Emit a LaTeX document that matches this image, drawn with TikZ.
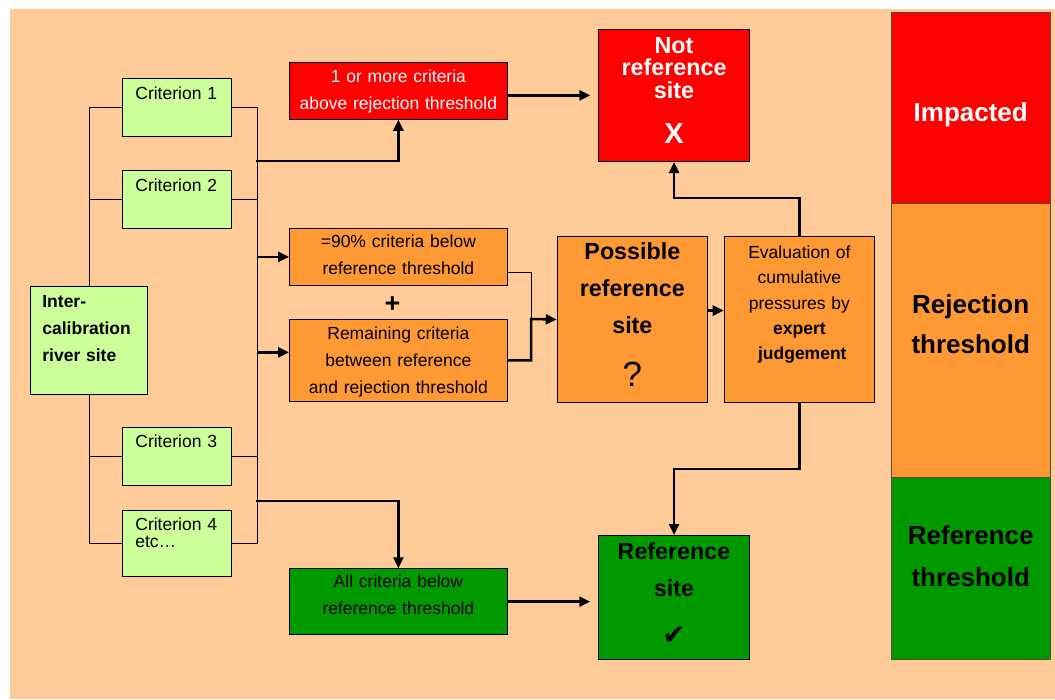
\documentclass[tikz,border=0pt]{standalone}
\usepackage{fontspec}
\setmainfont{Liberation Sans}
\newfontfamily\symfont{DejaVu Sans}
\usetikzlibrary{arrows.meta}
\definecolor{peach}{HTML}{FFCC99}
\definecolor{critgreen}{HTML}{CCFF99}
\definecolor{rejred}{HTML}{FF0000}
\definecolor{midorange}{HTML}{FF9933}
\definecolor{refgreen}{HTML}{009900}
\def\boxfont#1#2{\fontsize{#1}{#2}\selectfont}

\begin{document}
\begin{tikzpicture}[x=1pt, y=-1pt,
		box/.style={draw=black, line width=0.75pt, inner sep=0pt, anchor=north west, align=center},
		crit/.style={box, fill=critgreen, align=left, inner xsep=13pt, text width=83pt, text height=21pt, text depth=37pt, font=\boxfont{17.5}{17}},
		flow/.style={box, text width=218pt, font=\boxfont{17.5}{27}},
		site/.style={box, text width=150.7pt, font=\bfseries\boxfont{23.3}{37}},
		legend/.style={box, draw=black!70, text width=158.7pt, font=\bfseries\boxfont{26}{40}},
		link/.style={line width=2.5pt, -{Triangle[length=11pt, width=10pt]}},
		bracket/.style={line width=1pt}]
			%%%%% START %%%%%
			
			\useasboundingbox (0,0) rectangle (1055,699);
			\fill[peach] (10,9) rectangle (1055,699);
			
			% criteria
			\node[crit] (c1) at (122,78) {Criterion 1};
			\node[crit] (c2) at (122,170) {Criterion 2};
			\node[crit, text height=20pt, text depth=38pt] (c3) at (122,427.3) {Criterion 3};
			\node[crit, text height=20pt, text depth=46pt] (c4) at (122,510) {Criterion 4\\etc…};
			
			\draw[bracket] (c1.west) -- ++(-33,0) |- (c4.west);
			\draw[bracket] (c1.east) -- ++(26,0) |- (c4.east);
			\foreach \c in {c2,c3} {
				\draw[bracket] (\c.west) -- ++(-33,0);
				\draw[bracket] (\c.east) -- ++(26,0);
			}
			\coordinate (rbr) at (257,0);
			\coordinate (tapRej) at (256,161);
			\coordinate (tapAll) at (256,501);
			
			\node[box, fill=critgreen, align=left, inner xsep=12pt, text width=93pt, text height=20.7pt, text depth=87.3pt, font=\bfseries\boxfont{17.5}{27}] (inter) at (30,286) {Inter-\\calibration\\river site};
			
			% outcomes of the criteria
			\node[flow, fill=rejred, text=white, text height=19.7pt, text depth=37.3pt] (rej) at (289,62) {1 or more criteria\\above rejection threshold};
			\node[flow, fill=midorange, text height=18.7pt, text depth=38.3pt] (ninety) at (289,228) {=90\% criteria below\\reference threshold};
			\node[font=\bfseries\boxfont{27}{27}] (plus) at (392.5,304.5) {+};
			\node[flow, fill=midorange, text height=20pt, text depth=62pt] (remain) at (289,319) {Remaining criteria\\between reference\\and rejection threshold};
			\node[flow, fill=refgreen, text height=19pt, text depth=47pt] (allbelow) at (289,568.3) {All criteria below\\reference threshold};
			
			% sites
			\node[site, fill=rejred, text=white, text height=23.7pt, text depth=108.6pt, font=\bfseries\boxfont{23.3}{22.5}] (notref) at (598.3,29) {Not\\reference\\site\\[22.5pt]{\boxfont{29}{29}X}};
			\node[site, fill=midorange, text width=150.6pt, text height=23.3pt, text depth=143pt] (poss) at (556.7,236) {Possible\\reference\\site\\[15.4pt]{\mdseries\boxfont{35}{35}?}};
			\node[site, fill=midorange, text width=150.6pt, text height=22.3pt, text depth=144pt, font=\boxfont{17.5}{25.3}] (eval) at (723.7,236) {Evaluation of\\cumulative\\pressures by\\\textbf{expert}\\\textbf{ judgement}};
			\node[site, fill=refgreen, text height=23.7pt, text depth=100.6pt] (refsite) at (598.3,535) {Reference\\site\\[11pt]{\symfont\mdseries\boxfont{28}{28}✔}};
			
			% legend column
			\node[legend, fill=rejred, text=white, text height=108.4pt, text depth=82pt] (impact) at (891,12.3) {Impacted};
			\node[legend, fill=midorange, text height=110.6pt, text depth=163.4pt, font=\bfseries\boxfont{26}{39.4}] (rejthr) at (891,202.7) {Rejection\\threshold};
			\node[legend, fill=refgreen, text height=67.3pt, text depth=115.3pt, font=\bfseries\boxfont{26}{41.7}] (refthr) at (891,476.7) {Reference\\threshold};
			
			% connectors
			\draw[link] (tapRej) -| (rej.south);
			\draw[link] (ninety.west -| rbr) -- (ninety.west);
			\draw[link] ([yshift=8pt]remain.west -| rbr) -- ([yshift=8pt]remain.west);
			\draw[link] (tapAll) -| (allbelow.north);
			\draw[link, shorten >=8pt] ([yshift=-4.5pt]rej.east) -- ([yshift=-4.5pt]rej.east -| notref.west);
			\draw[link, shorten >=8pt] (allbelow.east) -- (allbelow.east -| refsite.west);
			
			\coordinate (join) at (531,319);
			\draw[bracket] ([yshift=-16pt]ninety.east) -| (join);
			\draw[link] (remain.east) -| (join) -- (poss.west);
			\draw[link] ([yshift=9pt]poss.east) -- ([yshift=9pt]eval.west);
			
			\draw[link] (eval.north) -- ++(0,-38) -| (notref.south);
			\draw[link] (eval.south) -- ++(0,66) -| (refsite.north);
			
			%%%%% END %%%%%
		\end{tikzpicture}
\end{document}
